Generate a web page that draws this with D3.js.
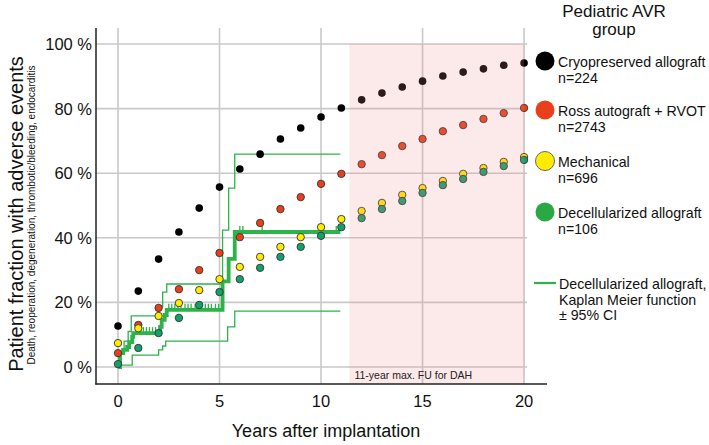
<!DOCTYPE html>
<html><head><meta charset="utf-8">
<script src="https://cdn.jsdelivr.net/npm/d3@7"></script>
<style>html,body{margin:0;padding:0;background:#fff;}svg{display:block;font-family:"Liberation Sans",Arial,sans-serif;}</style>
</head><body>
<svg id="c" width="709" height="445"></svg>
<script>
// ---- data ----
const years = [0,1,2,3,4,5,6,7,8,9,10,11,12,13,14,15,16,17,18,19,20];
const cryo  = [12.7,23.5,33.4,41.8,49.2,55.7,61.3,65.9,70.6,74.0,77.4,80.2,82.7,84.8,86.7,88.5,90.1,91.3,92.3,93.4,94.1];
const ross  = [4.3,13.0,18.3,24.1,30.0,35.3,40.2,44.6,48.9,52.6,56.7,59.8,62.8,65.6,68.4,70.6,73.0,74.9,76.8,78.6,80.2];
const mech  = [7.4,12.0,15.8,19.8,23.8,27.2,31.0,34.1,37.2,40.2,43.3,45.8,48.3,50.8,53.3,55.4,57.6,59.8,61.6,63.5,65.0];
const decell= [0.9,5.9,10.5,15.2,19.2,23.2,27.2,30.7,34.1,37.2,40.6,43.3,46.1,48.9,51.4,53.9,56.3,58.2,60.4,62.2,64.1];

const kmTime = [0,0.1,0.25,0.45,0.55,0.7,0.75,2.07,2.15,2.3,2.4,5.15,5.45,5.75,10.95];
const kmVal  = [0,4.3,5.3,6.2,7.7,9.3,10.5,12.4,14.6,16.1,17.7,26.5,33.5,41.8,41.8];
const upTime = [0,0.1,0.3,0.5,0.65,2.0,2.2,2.4,5.15,5.45,5.75,10.95];
const upVal  = [1,4,8,11,15.8,18.6,23.2,25.7,42.4,55.4,65.9,65.9];
const loTime = [0,0.7,2.0,2.2,2.35,5.4,5.75,10.95];
const loVal  = [0.6,3.7,5.3,6.5,8.0,12.4,17.3,17.3];
const censorTime = [1.1,1.25,1.4,1.55,1.7,1.85,2.5,2.65,2.8,2.95,3.1,3.3,3.45,3.6,3.8,3.95,4.1,4.3,4.45,4.6,4.8,4.95,5.1,6.0,6.15,7.1,10.75,10.95];
const censorVal  = [10.5,10.5,10.5,10.5,10.5,10.5,17.7,17.7,17.7,17.7,17.7,17.7,17.7,17.7,17.7,17.7,17.7,17.7,17.7,17.7,17.7,17.7,17.7,41.8,41.8,41.8,41.8,41.8];

const xTicks = [0,5,10,15,20];
const yTicks = [0,20,40,60,80,100];
const fuStart = 11.4, fuEnd = 20;
const groupNames = ["Cryopreserved allograft","Ross autograft + RVOT","Mechanical","Decellularized allograft"];
const groupN = ["n=224","n=2743","n=696","n=106"];
const dotColors = ["#000000","#e8401c","#ffec00","#14a06c"];
const legColors = ["#000000","#e8401c","#ffec00","#2aa844"];
const kmColor = "#2db34a";

// ---- scales ----
const svg = d3.select("#c");
const x = d3.scaleLinear().domain([-1.084, 21.13]).range([96, 547]);
const y = d3.scaleLinear().domain([-5.26, 104.95]).range([384, 28]);

// grid
const g = svg.append("g");
g.selectAll(".hg").data(yTicks).join("line")
  .attr("x1", x(-1.084)).attr("x2", x(20.15))
  .attr("y1", d => y(d)).attr("y2", d => y(d))
  .attr("stroke", "#c9c9c9").attr("stroke-width", 1.6);
g.selectAll(".vg").data(xTicks).join("line")
  .attr("x1", d => x(d)).attr("x2", d => x(d))
  .attr("y1", y(104.95)).attr("y2", y(-5.26))
  .attr("stroke", "#c9c9c9").attr("stroke-width", 1.6);

// KM lines
const line = d3.line().x(d => x(d[0])).y(d => y(d[1])).curve(d3.curveStepAfter);
svg.append("path").datum(d3.zip(upTime, upVal)).attr("d", line)
  .attr("fill", "none").attr("stroke", kmColor).attr("stroke-width", 1.3);
svg.append("path").datum(d3.zip(loTime, loVal)).attr("d", line)
  .attr("fill", "none").attr("stroke", kmColor).attr("stroke-width", 1.3);
svg.append("path").datum(d3.zip(kmTime, kmVal)).attr("d", line)
  .attr("fill", "none").attr("stroke", kmColor).attr("stroke-width", 3.8);
svg.selectAll(".cens").data(d3.zip(censorTime, censorVal)).join("line")
  .attr("x1", d => x(d[0])).attr("x2", d => x(d[0]))
  .attr("y1", d => y(d[1]) - 1).attr("y2", d => y(d[1]) - 6)
  .attr("stroke", kmColor).attr("stroke-width", 1.3);

// dots
const series = [cryo, ross, mech, decell];
series.forEach((s, i) => {
  svg.append("g").selectAll("circle").data(d3.zip(years, s)).join("circle")
    .attr("cx", d => x(d[0])).attr("cy", d => y(d[1])).attr("r", i === 0 ? 3.8 : 3.7)
    .attr("fill", dotColors[i]).attr("stroke", i === 0 ? "none" : "#333").attr("stroke-width", 0.9);
});

// pink follow-up region overlay
svg.append("rect").attr("x", x(fuStart)).attr("width", x(fuEnd) - x(fuStart))
  .attr("y", y(100)).attr("height", y(-5.26) - y(100))
  .attr("fill", "#f08a8a").attr("opacity", 0.19);
svg.append("text").attr("x", x(fuStart) + 5).attr("y", 379)
  .attr("font-size", 10.5).attr("fill", "#222").text("11-year max. FU for DAH");

// axes
svg.append("line").attr("x1", 96).attr("x2", 96).attr("y1", y(104.95)).attr("y2", 384.5)
  .attr("stroke", "#222").attr("stroke-width", 1.5);
svg.append("line").attr("x1", 95.3).attr("x2", 547).attr("y1", 384).attr("y2", 384)
  .attr("stroke", "#222").attr("stroke-width", 1.5);

svg.selectAll(".yt").data(yTicks).join("text")
  .attr("x", 92).attr("y", d => y(d) + 6).attr("text-anchor", "end")
  .attr("font-size", 16.5).attr("fill", "#111").text(d => d + " %");
svg.selectAll(".xt").data(xTicks).join("text")
  .attr("x", d => x(d)).attr("y", 407).attr("text-anchor", "middle")
  .attr("font-size", 16.5).attr("fill", "#111").text(d => d);

svg.append("text").attr("x", 326).attr("y", 437).attr("text-anchor", "middle")
  .attr("font-size", 18).attr("fill", "#111").text("Years after implantation");
svg.append("text").attr("transform", "translate(23,214) rotate(-90)").attr("text-anchor", "middle")
  .attr("font-size", 20).attr("fill", "#111").text("Patient fraction with adverse events");
svg.append("text").attr("transform", "translate(35,215) rotate(-90)").attr("text-anchor", "middle")
  .attr("font-size", 10).attr("fill", "#111").text("Death, reoperation, degeneration, thrombotic/bleeding, endocarditis");

// legend
svg.append("text").attr("x", 614).attr("y", 17).attr("text-anchor", "middle")
  .attr("font-size", 17).attr("fill", "#111").text("Pediatric AVR");
svg.append("text").attr("x", 614).attr("y", 35).attr("text-anchor", "middle")
  .attr("font-size", 17).attr("fill", "#111").text("group");
const legY = [61, 110, 161, 212];
groupNames.forEach((nm, i) => {
  svg.append("circle").attr("cx", 545).attr("cy", legY[i]).attr("r", 9.5)
    .attr("fill", legColors[i]).attr("stroke", i === 2 ? "#666" : "none").attr("stroke-width", 1);
  svg.append("text").attr("x", 558).attr("y", legY[i] + 6).attr("font-size", 14.2).attr("fill", "#111").text(nm);
  svg.append("text").attr("x", 558).attr("y", legY[i] + 22).attr("font-size", 14.2).attr("fill", "#111").text(groupN[i]);
});
svg.append("line").attr("x1", 534).attr("x2", 556).attr("y1", 283).attr("y2", 283)
  .attr("stroke", kmColor).attr("stroke-width", 2.2);
["Decellularized allograft,","Kaplan Meier function","± 95% CI"].forEach((t, i) => {
  svg.append("text").attr("x", 559).attr("y", 289 + i * 15.5).attr("font-size", 14.2).attr("fill", "#111").text(t);
});
</script>
</body></html>
